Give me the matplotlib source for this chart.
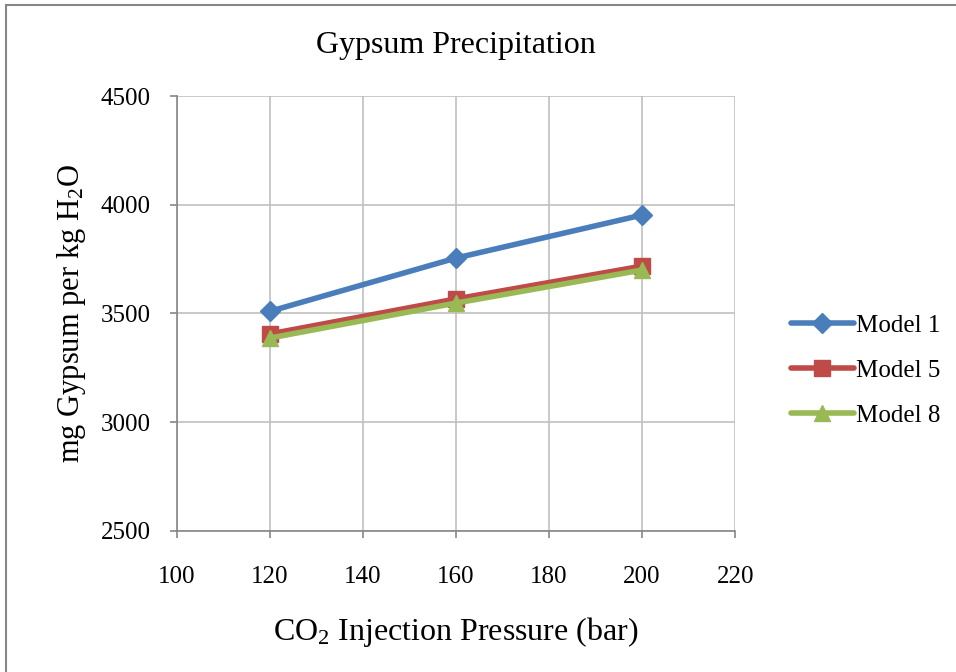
import matplotlib
matplotlib.use("Agg")
import matplotlib.pyplot as plt
from matplotlib.patches import Rectangle

plt.rcParams['font.family'] = ['Liberation Serif', 'DejaVu Serif']
plt.rcParams['mathtext.fontset'] = 'custom'
plt.rcParams['mathtext.rm'] = 'Liberation Serif'
plt.rcParams['mathtext.it'] = 'Liberation Serif:italic'

pressure = [120, 160, 200]
model1 = [3510, 3755, 3953]
model5 = [3406, 3567, 3718]
model8 = [3387, 3548, 3700]
series_names = ["Model 1", "Model 5", "Model 8"]
colors = ["#4a7ebb", "#be4b48", "#98b954"]
markers = ["D", "s", "^"]

fig = plt.figure(figsize=(9.56, 6.72), dpi=100)
ax = fig.add_axes([0.185, 0.21, 0.584, 0.647])

for vals, name, c, m in zip([model1, model5, model8], series_names, colors, markers):
    ms = 10 if m == "D" else 12
    ax.plot(pressure, vals, color=c, lw=4, marker=m, markersize=ms,
            markeredgecolor=c, markerfacecolor=c, label=name, solid_capstyle='round')

ax.set_xlim(100, 220)
ax.set_ylim(2500, 4500)
ax.set_xticks(range(100, 221, 20))
ax.set_yticks(range(2500, 4501, 500))
ax.grid(True, color="#c0c0c0", lw=1.2)
ax.set_axisbelow(True)
for s in ["top", "right"]:
    ax.spines[s].set_visible(False)
for s in ["left", "bottom"]:
    ax.spines[s].set_color("#868686")
    ax.spines[s].set_linewidth(1.2)
ax.tick_params(axis='both', labelsize=18, colors="#868686", labelcolor="black", length=5, width=1.2)
ax.tick_params(axis='x', pad=20)
ax.tick_params(axis='y', pad=14)

ax.set_title("Gypsum Precipitation", fontsize=23, pad=31)
ax.set_xlabel(r"CO$_2$ Injection Pressure (bar)", fontsize=23, labelpad=20)
ax.set_ylabel(r"mg Gypsum per kg H$_2$O", fontsize=22, labelpad=9)

fig.legend(loc="center left", bbox_to_anchor=(0.804, 0.449), frameon=False,
           fontsize=18, handlelength=2.5, labelspacing=0.9, handletextpad=0.1)

fig.patches.append(Rectangle((0.006, -0.05), 1.1, 1.043, transform=fig.transFigure,
                             fill=False, edgecolor="#868686", lw=1.5))

fig.savefig("out.png", dpi=100)
